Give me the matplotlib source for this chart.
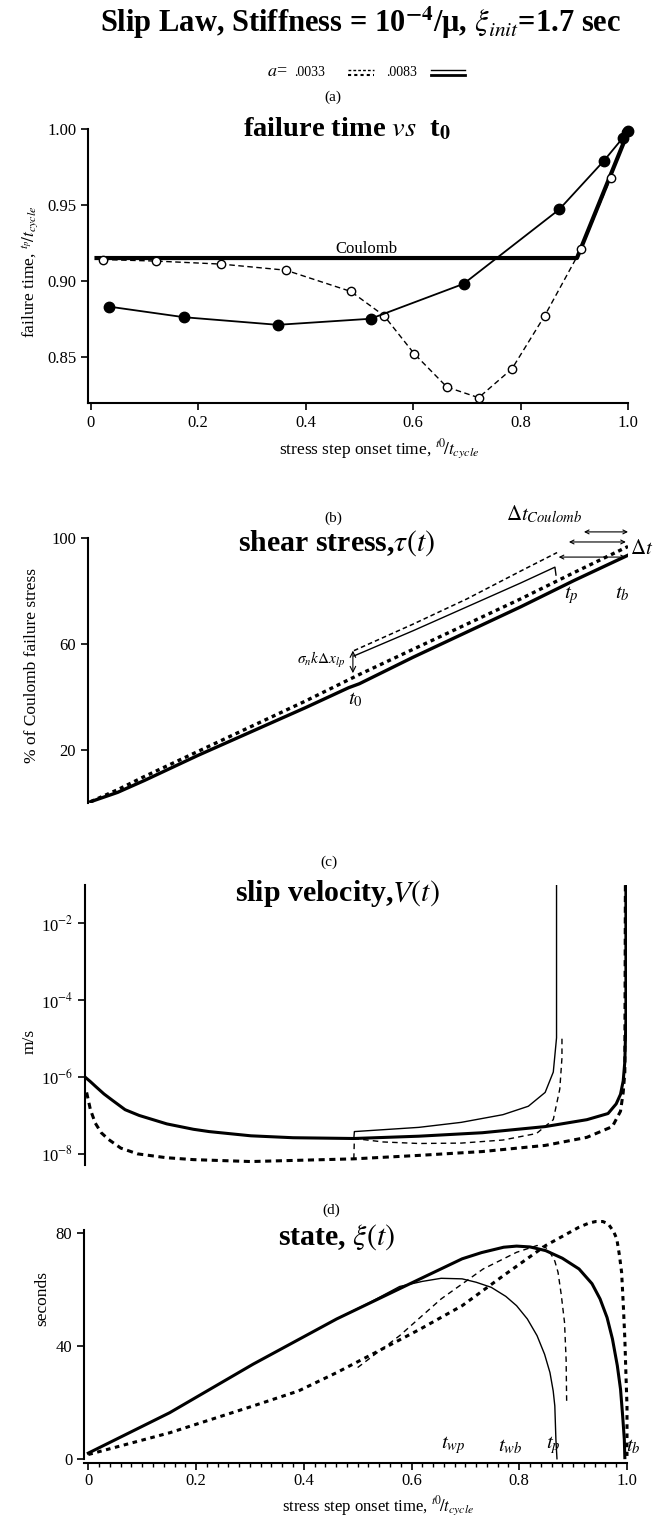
import numpy as np
import matplotlib
matplotlib.use('Agg')
import matplotlib.pyplot as plt
from matplotlib.lines import Line2D

plt.rcParams['font.family'] = ['Liberation Serif', 'DejaVu Serif']
plt.rcParams['mathtext.fontset'] = 'stix'

W, H = 657, 1518

# (a) failure time vs t0
t0_filled = [0.034, 0.174, 0.348, 0.521, 0.694, 0.872, 0.955, 0.99, 1.0]
tp_filled = [0.883, 0.876, 0.871, 0.875, 0.898, 0.947, 0.979, 0.994, 0.999]
t0_open = [0.023, 0.121, 0.243, 0.363, 0.484, 0.546, 0.602, 0.663, 0.722, 0.784, 0.845, 0.913, 0.968, 0.997]
tp_open = [0.914, 0.913, 0.911, 0.907, 0.893, 0.877, 0.852, 0.830, 0.823, 0.842, 0.877, 0.921, 0.968, 0.998]
coul_x = [0.007, 0.905, 1.0]
coul_y = [0.915, 0.915, 0.998]

# (b) shear stress, % of Coulomb failure stress
tau_x = [0, 0.05, 0.1, 0.2, 0.3, 0.4, 0.48, 0.5, 0.6, 0.7, 0.8, 0.9, 1.0]
tau_thick = [0.5, 4, 8.5, 18, 27, 36, 43.5, 45, 55, 64.5, 74, 84, 93.5]
tau_dotted = [0.5, 5, 10, 19.5, 29, 38.5, 46.5, 48.5, 58, 67.5, 77, 87, 96.8]
tau_step_x = [0.49, 0.6, 0.7, 0.8, 0.864, 0.866]
tau_step_thin = [55.5, 65, 74, 83, 89, 86]
tau_dash_x = [0.49, 0.6, 0.7, 0.8, 0.868]
tau_step_dash = [57.5, 67.5, 77, 87.5, 94.5]

# (c) slip velocity, log10 of m/s
v_x_thick = [0, 0.01, 0.02, 0.035, 0.05, 0.074, 0.1, 0.151, 0.2, 0.229, 0.306, 0.384, 0.496, 0.616,
             0.733, 0.849, 0.926, 0.965, 0.98, 0.988, 0.993, 0.996, 0.998, 0.998]
logv_thick = [-6.0, -6.12, -6.25, -6.44, -6.6, -6.85, -7.0, -7.22, -7.36, -7.42, -7.53, -7.58, -7.6, -7.54,
              -7.45, -7.29, -7.11, -6.95, -6.7, -6.45, -6.1, -5.6, -4.5, -1.0]
v_x_dash = [0.003, 0.01, 0.019, 0.03, 0.043, 0.066, 0.097, 0.15, 0.2, 0.306, 0.496, 0.616, 0.733, 0.849,
            0.926, 0.973, 0.988, 0.993, 0.996, 0.997]
logv_dash = [-6.4, -6.85, -7.2, -7.45, -7.62, -7.85, -8.0, -8.1, -8.15, -8.2, -8.13, -8.04, -7.94, -7.78,
             -7.57, -7.29, -6.89, -6.4, -5.87, -1.0]
v_x_thin = [0.496, 0.497, 0.616, 0.694, 0.771, 0.818, 0.849, 0.864, 0.870, 0.870]
logv_thin = [-7.6, -7.42, -7.31, -7.18, -6.98, -6.76, -6.4, -5.87, -4.98, -1.0]
v_x_thindash = [0.496, 0.497, 0.55, 0.616, 0.694, 0.771, 0.833, 0.864, 0.876, 0.88, 0.88]
logv_thindash = [-8.13, -7.6, -7.69, -7.73, -7.72, -7.64, -7.47, -7.11, -6.31, -5.5, -4.9]

# (d) state, seconds
s_x_thick = [0, 0.151, 0.306, 0.461, 0.616, 0.694, 0.73, 0.771, 0.795, 0.82, 0.849, 0.88, 0.911, 0.935,
             0.95, 0.963, 0.973, 0.982, 0.988, 0.992, 0.995, 0.996]
s_thick = [2, 16.3, 33.5, 49.5, 63.7, 70.8, 73, 74.9, 75.3, 75.0, 73.7, 71, 67.2, 62,
           56.6, 50, 42.4, 33, 24.6, 15, 6.9, 0.4]
s_x_thin = [0.461, 0.523, 0.578, 0.62, 0.655, 0.694, 0.72, 0.748, 0.775, 0.795, 0.815, 0.833, 0.847,
            0.857, 0.863, 0.866, 0.868, 0.87]
s_thin = [49.5, 55.4, 61.0, 62.8, 63.9, 63.7, 62.5, 60.7, 57.5, 54.2, 49.5, 43.6, 37,
          30.5, 24, 18.7, 6.9, 0]
s_x_dot = [0, 0.151, 0.306, 0.39, 0.461, 0.539, 0.616, 0.694, 0.771, 0.849, 0.911, 0.93, 0.942, 0.955,
           0.965, 0.975, 0.981, 0.986, 0.99, 0.993, 0.996, 0.998, 1.0, 1.0]
s_dot = [1.5, 9.2, 18.7, 24, 30.5, 38.2, 45.9, 54.2, 64.9, 75.5, 82, 83.5, 84, 84,
         83.2, 80.5, 77.9, 72, 66, 55, 42.4, 30, 18.7, 1]
s_x_dash = [0.5, 0.578, 0.655, 0.733, 0.795, 0.833, 0.848, 0.857, 0.866, 0.872, 0.878, 0.884, 0.887, 0.888]
s_dash = [32.3, 43.6, 56.6, 67.2, 73.1, 75.5, 75, 73.1, 70, 66, 58, 48.3, 35, 19.9]


def box(l, r, t, b):
    return [l / W, 1 - b / H, (r - l) / W, (b - t) / H]


def fx(px):
    return px / W


def fy(py):
    return 1 - py / H


def style(ax, bottom=True):
    for s in ['top', 'right']:
        ax.spines[s].set_visible(False)
    ax.spines['left'].set_linewidth(1.5)
    ax.spines['bottom'].set_linewidth(1.5)
    if not bottom:
        ax.spines['bottom'].set_visible(False)
        ax.set_xticks([])
    ax.tick_params(direction='out', length=5, width=1.2, labelsize=12)


fig = plt.figure(figsize=(6.57, 15.18), dpi=100)

fig.text(fx(361), fy(23), 'Slip Law, Stiffness = 10$^{\\mathbf{-4}}$/\u03bc, $\\xi_{init}$=1.7 sec',
         ha='center', va='center', fontsize=22, fontweight='bold')

# legend row
fig.text(fx(267), fy(72), '$a$=', ha='left', va='center', fontsize=13)
fig.text(fx(294), fy(73), '.0033', ha='left', va='center', fontsize=10)
fig.add_artist(Line2D([fx(348), fx(374)], [fy(70), fy(70)], color='k', lw=1, ls=(0, (2, 1.5))))
fig.add_artist(Line2D([fx(348), fx(374)], [fy(75), fy(75)], color='k', lw=1.5, ls=(0, (1.5, 1.5))))
fig.text(fx(386), fy(73), '.0083', ha='left', va='center', fontsize=10)
fig.add_artist(Line2D([fx(431), fx(465)], [fy(70), fy(70)], color='k', lw=1))
fig.add_artist(Line2D([fx(431), fx(465)], [fy(75), fy(75)], color='k', lw=2))

# ---- (a)
fig.text(fx(333), fy(97), '(a)', ha='center', va='center', fontsize=11)
ax = fig.add_axes(box(88, 628, 129, 403))
style(ax)
ax.plot(coul_x, coul_y, color='k', lw=3, solid_capstyle='butt')
ax.plot(t0_open, tp_open, color='k', lw=1, ls=(0, (4, 2.5)), marker='o', ms=6,
        mfc='white', mec='k', mew=1, clip_on=False)
ax.plot(t0_filled, tp_filled, color='k', lw=1.3, marker='o', ms=7.5, mfc='k', mec='k', clip_on=False)
ax.text(0.514, 0.921, 'Coulomb', ha='center', va='center', fontsize=12)
ax.set_xlim(-0.005, 1.0)
ax.set_ylim(0.8195, 1.0)
ax.set_yticks([0.85, 0.90, 0.95, 1.00])
ax.set_yticklabels(['0.85', '0.90', '0.95', '1.00'])
ax.set_xticks([0, 0.2, 0.4, 0.6, 0.8, 1.0])
ax.set_xticklabels(['0', '0.2', '0.4', '0.6', '0.8', '1.0'])
ax.set_ylabel('failure time, $^{t_p}\\!/t_{cycle}$', fontsize=12.5)
ax.yaxis.set_label_coords(-0.089, 0.478)
ax.set_xlabel('stress step onset time, $^{t0}\\!/t_{cycle}$', fontsize=12.5)
ax.xaxis.set_label_coords(0.539, -0.125)
ax.text(0.48, 1.0, 'failure time $\\mathit{vs}$  t$_{\\mathbf{0}}$', transform=ax.transAxes,
        ha='center', va='center', fontsize=20.5, fontweight='bold')

# ---- (b)
fig.text(fx(333), fy(518), '(b)', ha='center', va='center', fontsize=11)
ax = fig.add_axes(box(88, 628, 538, 803))
style(ax, bottom=False)
ax.plot(tau_x, tau_thick, color='k', lw=2.4)
ax.plot(tau_x, tau_dotted, color='k', lw=2.4, ls=(0, (1.2, 1.2)))
ax.plot(tau_step_x, tau_step_thin, color='k', lw=1)
ax.plot(tau_dash_x, tau_step_dash, color='k', lw=1.1, ls=(0, (3, 2)))
ax.annotate('', xy=(0.488, 49), xytext=(0.488, 57.5),
            arrowprops=dict(arrowstyle='<->', lw=0.8, shrinkA=0, shrinkB=0))
ax.text(0.473, 54, '$\\sigma_n k\\Delta x_{lp}$', ha='right', va='center', fontsize=11)
ax.text(0.492, 38.9, '$t_0$', ha='center', va='center', fontsize=15)
ax.text(0.895, 78.5, '$t_p$', ha='center', va='center', fontsize=15)
ax.text(0.989, 79, '$t_b$', ha='center', va='center', fontsize=15)
ax.text(0.844, 108.7, '$\\Delta t_{Coulomb}$', ha='center', va='center', fontsize=15, clip_on=False)
ax.text(1.004, 95.5, '$\\Delta t$', ha='left', va='center', fontsize=15, clip_on=False)
for x1, x2, yy in [(0.918, 1.0, 102.3), (0.89, 0.996, 98.5), (0.871, 0.996, 92.8)]:
    ax.annotate('', xy=(x1, yy), xytext=(x2, yy), annotation_clip=False,
                arrowprops=dict(arrowstyle='<->', lw=0.8, shrinkA=0, shrinkB=0, mutation_scale=7))
ax.set_xlim(-0.005, 1.0)
ax.set_ylim(0, 100)
ax.set_yticks([20, 60, 100])
ax.set_ylabel('% of Coulomb failure stress', fontsize=12.5)
ax.yaxis.set_label_coords(-0.089, 0.52)
ax.text(0.46, 0.98, 'shear stress,$\\tau(t)$', transform=ax.transAxes,
        ha='center', va='center', fontsize=21.5, fontweight='bold')

# ---- (c)
fig.text(fx(329), fy(862), '(c)', ha='center', va='center', fontsize=11)
ax = fig.add_axes(box(85, 627, 885, 1165))
style(ax, bottom=False)
ax.set_yscale('log')
ax.plot(v_x_thick, np.power(10.0, logv_thick), color='k', lw=2.2)
ax.plot(v_x_dash, np.power(10.0, logv_dash), color='k', lw=2.2, ls=(0, (2, 1.5)))
ax.plot(v_x_thin, np.power(10.0, logv_thin), color='k', lw=1)
ax.plot(v_x_thindash, np.power(10.0, logv_thindash), color='k', lw=1, ls=(0, (4, 3)))
ax.set_xlim(0, 1.0)
ax.set_ylim(10 ** -8.29, 10 ** -1)
ax.set_yticks([1e-8, 1e-6, 1e-4, 1e-2])
ax.set_yticklabels(['10$^{-8}$', '10$^{-6}$', '10$^{-4}$', '10$^{-2}$'])
ax.minorticks_off()
ax.set_ylabel('m/s', fontsize=12.5)
ax.yaxis.set_label_coords(-0.087, 0.44)
ax.text(0.465, 0.97, 'slip velocity,$V(t)$', transform=ax.transAxes,
        ha='center', va='center', fontsize=21.5, fontweight='bold')

# ---- (d)
fig.text(fx(331), fy(1210), '(d)', ha='center', va='center', fontsize=11)
ax = fig.add_axes(box(84, 627, 1230, 1463))
style(ax)
ax.plot(s_x_thick, s_thick, color='k', lw=2.2, clip_on=False)
ax.plot(s_x_thin, s_thin, color='k', lw=1, clip_on=False)
ax.plot(s_x_dot, s_dot, color='k', lw=2.2, ls=(0, (1.5, 1.5)), clip_on=False)
ax.plot(s_x_dash, s_dash, color='k', lw=1, ls=(0, (4, 3)), clip_on=False)
ax.set_xlim(-0.008, 1.0)
ax.set_ylim(-1.5, 81)
ax.spines['left'].set_bounds(0, 81)
ax.set_yticks([0, 40, 80])
ax.set_xticks([0, 0.2, 0.4, 0.6, 0.8, 1.0])
ax.set_xticklabels(['0', '0.2', '0.4', '0.6', '0.8', '1.0'])
ax.set_xticks(np.arange(0, 1.001, 0.02), minor=True)
ax.tick_params(axis='x', which='minor', direction='out', length=3, width=1)
ax.tick_params(axis='x', which='major', pad=2)
for lab, xx in [('$t_{wp}$', 0.678), ('$t_{wb}$', 0.783), ('$t_p$', 0.864), ('$t_b$', 1.012)]:
    ax.text(xx, 1.0, lab, ha='center', va='bottom', fontsize=15, clip_on=False)
ax.set_ylabel('seconds', fontsize=12.5)
ax.yaxis.set_label_coords(-0.063, 0.708)
ax.set_xlabel('stress step onset time, $^{t0}\\!/t_{cycle}$', fontsize=12)
ax.xaxis.set_label_coords(0.541, -0.135)
ax.text(0.465, 0.97, 'state, $\\xi(t)$', transform=ax.transAxes,
        ha='center', va='center', fontsize=21.5, fontweight='bold')

fig.savefig('out.png', dpi=100)
